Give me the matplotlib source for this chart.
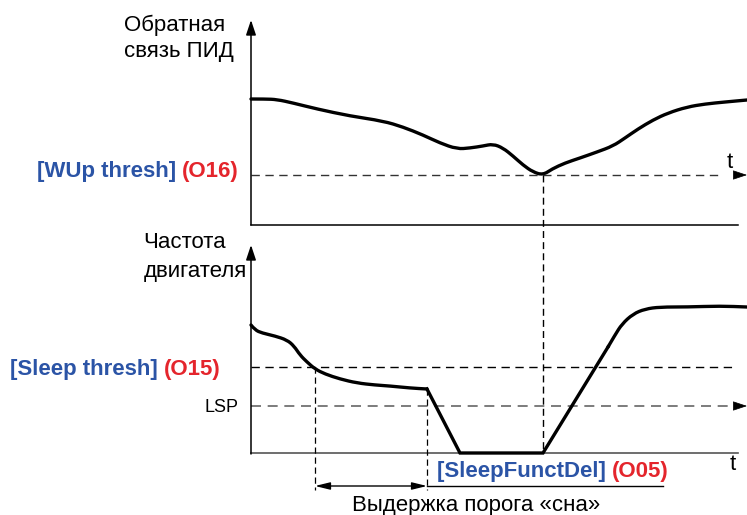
import matplotlib.pyplot as plt
from matplotlib.path import Path
from matplotlib.patches import PathPatch

# PID feedback curve (top panel), pixel coords
pid_x = [251, 265, 277, 293, 317, 350, 383, 403, 423, 440, 457, 470, 483, 493,
         503, 513, 523, 533, 543, 552, 565, 580, 597, 613, 625, 638, 653, 668,
         687, 705, 725, 747]
pid_y = [99, 99, 99.5, 103, 109, 116, 121, 127, 135, 143, 149, 148, 146, 144,
         148, 156, 165, 172, 175, 169, 163, 158, 152, 146, 138, 129, 120, 113,
         107, 104, 102, 100]

# motor frequency curve (bottom panel): smooth decay, ramp down, stop, ramp up, settle
decay_x = [251, 255, 262, 275, 287, 294, 300, 307, 315, 325, 340, 357, 375, 390, 410, 427]
decay_y = [325, 330, 333, 336, 340, 346, 355, 362, 369, 374, 379, 383, 385, 386, 388, 389]
ramp_x = [427, 460, 543, 608]
ramp_y = [389, 453, 453, 347]
settle_x = [608, 615, 622, 633, 645, 660, 687, 720, 747]
settle_y = [347, 335, 324, 314, 309, 307, 307, 306, 307]

wup_level = 175
sleep_level = 367
lsp_level = 406
wake_x = 543
sleep_x = 315
delay_x = 427

blue = "#2b54a6"
red = "#e4252c"
FS = 16

plt.rcParams["font.family"] = ["Liberation Sans", "DejaVu Sans"]

fig = plt.figure(figsize=(7.47, 5.15), dpi=100)
ax = fig.add_axes([0, 0, 1, 1])
ax.set_xlim(0, 747)
ax.set_ylim(515, 0)
ax.axis("off")


def smooth(xs, ys):
    """Quadratic bezier through midpoints of the given points."""
    pts = list(zip(xs, ys))
    verts = [pts[0]]
    codes = [Path.MOVETO]
    for i in range(1, len(pts) - 1):
        mid = ((pts[i][0] + pts[i + 1][0]) / 2, (pts[i][1] + pts[i + 1][1]) / 2)
        verts += [pts[i], mid]
        codes += [Path.CURVE3, Path.CURVE3]
    verts.append(pts[-1])
    codes.append(Path.LINETO)
    return Path(verts, codes)


def curve(xs, ys):
    ax.add_patch(PathPatch(smooth(xs, ys), fill=False, lw=2.4, ec="black",
                           joinstyle="round", capstyle="round"))


head = "-|>,head_length=0.9,head_width=0.3"
arrow = dict(arrowstyle=head, color="black", lw=1.1, shrinkA=0, shrinkB=0)
tip = dict(arrowstyle=head, color="black", lw=0.5, shrinkA=0, shrinkB=0)

# top panel axes
ax.annotate("", xy=(251, 20), xytext=(251, 225), arrowprops=arrow)
ax.plot([251, 738], [225, 225], color="black", lw=1.1)
ax.plot([251, 722], [wup_level, wup_level], color="#333333", lw=1, ls=(0, (6, 4)))
ax.annotate("", xy=(747, wup_level), xytext=(737, wup_level), arrowprops=tip)
ax.text(730, 162, "t", fontsize=FS, ha="center", va="center")

# bottom panel axes
ax.annotate("", xy=(251, 245), xytext=(251, 454), arrowprops=arrow)
ax.plot([251, 738], [453, 453], color="#555555", lw=1.2)
ax.plot([251, 732], [sleep_level, sleep_level], color="black", lw=1, ls=(0, (6, 4)))
ax.plot([251, 733], [lsp_level, lsp_level], color="#666666", lw=1.2, ls=(0, (6, 4)))
ax.annotate("", xy=(747, lsp_level), xytext=(737, lsp_level), arrowprops=tip)
ax.text(733, 464, "t", fontsize=FS, ha="center", va="center")

# curves
curve(pid_x, pid_y)
curve(decay_x, decay_y)
ax.plot(ramp_x, ramp_y, color="black", lw=2.4, solid_joinstyle="miter")
curve(settle_x, settle_y)

# vertical dashed markers
ax.plot([wake_x, wake_x], [wup_level, 453], color="black", lw=1, ls=(0, (5, 3)))
ax.plot([sleep_x, sleep_x], [sleep_level, 490], color="black", lw=0.9, ls=(0, (5, 3)))
ax.plot([delay_x, delay_x], [389, 490], color="black", lw=0.9, ls=(0, (5, 3)))

# delay span
ax.annotate("", xy=(sleep_x, 486), xytext=(delay_x, 486),
            arrowprops=dict(arrowstyle="<|-|>,head_length=0.9,head_width=0.22",
                            color="black", lw=1, shrinkA=0, shrinkB=0))
ax.plot([delay_x, 663], [486, 486], color="black", lw=1)

# labels
ax.text(124, 25, "Обратная", fontsize=FS, ha="left", va="center")
ax.text(124, 52, "связь ПИД", fontsize=FS, ha="left", va="center")
ax.text(226, 243, "Частота", fontsize=FS, ha="right", va="center")
ax.text(247, 272, "двигателя", fontsize=FS, ha="right", va="center")
ax.text(239, 407, "LSP", fontsize=13, ha="right", va="center")


def two_part(x, y, left, right):
    t = ax.text(x, y, left, fontsize=FS, fontweight="bold", color=blue,
                ha="left", va="center")
    fig.canvas.draw()
    bb = t.get_window_extent()
    x_end = ax.transData.inverted().transform((bb.x1, bb.y0))[0]
    ax.text(x_end, y, right, fontsize=FS, fontweight="bold", color=red,
            ha="left", va="center")


two_part(37, 172, "[WUp thresh] ", "(O16)")
two_part(10, 369, "[Sleep thresh] ", "(O15)")
two_part(437, 472, "[SleepFunctDel] ", "(O05)")

ax.text(476, 505, "Выдержка порога «сна»", fontsize=FS, ha="center", va="center")

fig.savefig("out.png", dpi=100)
